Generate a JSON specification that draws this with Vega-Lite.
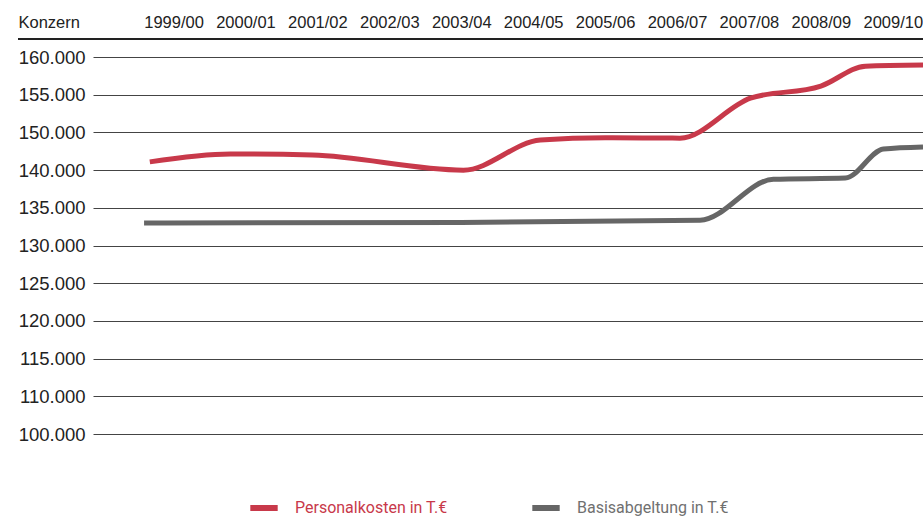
{
  "$schema": "https://vega.github.io/schema/vega-lite/v6.json",
  "width": 830,
  "height": 395,
  "autosize": {"type": "none"},
  "padding": {"left": 93, "top": 39, "right": 0, "bottom": 83},
  "background": "white",
  "config": {
    "view": {"stroke": null},
    "font": "Liberation Sans",
    "axisY": {"labelOverlap": false}
  },
  "data": {
    "values": [
      {"jahr": 1998.67, "wert": 146100, "reihe": "Personalkosten in T.€"},
      {"jahr": 1999.79, "wert": 147150, "reihe": "Personalkosten in T.€"},
      {"jahr": 2000.93, "wert": 147000, "reihe": "Personalkosten in T.€"},
      {"jahr": 2003.03, "wert": 145000, "reihe": "Personalkosten in T.€"},
      {"jahr": 2004.10, "wert": 149000, "reihe": "Personalkosten in T.€"},
      {"jahr": 2005.00, "wert": 149300, "reihe": "Personalkosten in T.€"},
      {"jahr": 2006.04, "wert": 149250, "reihe": "Personalkosten in T.€"},
      {"jahr": 2007.02, "wert": 154550, "reihe": "Personalkosten in T.€"},
      {"jahr": 2008.00, "wert": 156150, "reihe": "Personalkosten in T.€"},
      {"jahr": 2008.62, "wert": 158800, "reihe": "Personalkosten in T.€"},
      {"jahr": 2009.42, "wert": 158950, "reihe": "Personalkosten in T.€"},
      {"jahr": 1998.59, "wert": 138000, "reihe": "Basisabgeltung in T.€"},
      {"jahr": 2003.00, "wert": 138050, "reihe": "Basisabgeltung in T.€"},
      {"jahr": 2006.32, "wert": 138350, "reihe": "Basisabgeltung in T.€"},
      {"jahr": 2007.34, "wert": 143800, "reihe": "Basisabgeltung in T.€"},
      {"jahr": 2008.34, "wert": 143950, "reihe": "Basisabgeltung in T.€"},
      {"jahr": 2008.87, "wert": 147800, "reihe": "Basisabgeltung in T.€"},
      {"jahr": 2009.42, "wert": 148070, "reihe": "Basisabgeltung in T.€"}
    ]
  },
  "layer": [
    {
      "mark": {"type": "line", "interpolate": "monotone", "strokeWidth": 5, "strokeCap": "butt"},
      "encoding": {
        "x": {
          "field": "jahr",
          "type": "quantitative",
          "scale": {"domain": [1997.88, 2009.42], "nice": false, "zero": false},
          "axis": {
            "orient": "top",
            "title": null,
            "values": [1999, 2000, 2001, 2002, 2003, 2004, 2005, 2006, 2007, 2008, 2009],
            "labelExpr": "datum.value + '/' + substring(toString(datum.value + 1), 2)",
            "domain": false,
            "ticks": false,
            "tickSize": 0,
            "grid": false,
            "labelFontSize": 16.5,
            "labelColor": "#222222",
            "labelPadding": 12,
            "labelBaseline": "alphabetic",
            "labelOverlap": false,
            "labelFlush": false
          }
        },
        "y": {
          "field": "wert",
          "type": "quantitative",
          "scale": {"domain": [110000, 162400], "nice": false, "zero": false},
          "axis": {
            "orient": "left",
            "values": [110000, 115000, 120000, 125000, 130000, 135000, 140000, 145000, 150000, 155000, 160000],
            "labelExpr": "datum.value >= 150000 ? replace(format(datum.value, ','), ',', '.') : (datum.value == 110000 ? '100.000' : replace(format(datum.value - 5000, ','), ',', '.'))",
            "domain": false,
            "ticks": false,
            "tickSize": 0,
            "grid": true,
            "gridColor": "#444444",
            "gridWidth": 1,
            "labelFontSize": 18.5,
            "labelColor": "#222222",
            "labelPadding": 8,
            "labelOverlap": false,
            "labelFlush": false,
            "title": "Konzern",
            "titleAngle": 0,
            "titleAlign": "left",
            "titleBaseline": "alphabetic",
            "titleX": -75,
            "titleY": -12,
            "titleFontSize": 16.5,
            "titleFontWeight": "normal",
            "titleColor": "#222222"
          }
        },
        "color": {
          "field": "reihe",
          "type": "nominal",
          "scale": {
            "domain": ["Personalkosten in T.€", "Basisabgeltung in T.€"],
            "range": ["#c8394a", "#666666"]
          },
          "legend": {
            "orient": "none",
            "legendX": 154,
            "legendY": 452,
            "direction": "horizontal",
            "title": null,
            "symbolType": "stroke",
            "symbolStrokeWidth": 6,
            "symbolSize": 750,
            "labelFont": "Roboto",
            "labelFontSize": 16,
            "labelOffset": 14,
            "columnPadding": 72,
            "encode": {
              "labels": {
                "update": {
                  "fill": {"signal": "datum.label == 'Personalkosten in T.€' ? '#c8394a' : '#707070'"}
                }
              }
            }
          }
        }
      }
    },
    {
      "mark": {"type": "rule", "color": "#222222", "strokeWidth": 1},
      "encoding": {
        "x": {"datum": 1996.84, "type": "quantitative"},
        "x2": {"datum": 2009.42},
        "y": {
          "datum": 162400,
          "type": "quantitative",
          "axis": {
            "orient": "left",
            "values": [110000, 115000, 120000, 125000, 130000, 135000, 140000, 145000, 150000, 155000, 160000],
            "labelExpr": "datum.value >= 150000 ? replace(format(datum.value, ','), ',', '.') : (datum.value == 110000 ? '100.000' : replace(format(datum.value - 5000, ','), ',', '.'))",
            "domain": false,
            "ticks": false,
            "tickSize": 0,
            "grid": true,
            "gridColor": "#444444",
            "gridWidth": 1,
            "labelFontSize": 18.5,
            "labelColor": "#222222",
            "labelPadding": 8,
            "labelOverlap": false,
            "labelFlush": false,
            "title": "Konzern",
            "titleAngle": 0,
            "titleAlign": "left",
            "titleBaseline": "alphabetic",
            "titleX": -75,
            "titleY": -12,
            "titleFontSize": 16.5,
            "titleFontWeight": "normal",
            "titleColor": "#222222"
          }
        }
      }
    }
  ]
}
